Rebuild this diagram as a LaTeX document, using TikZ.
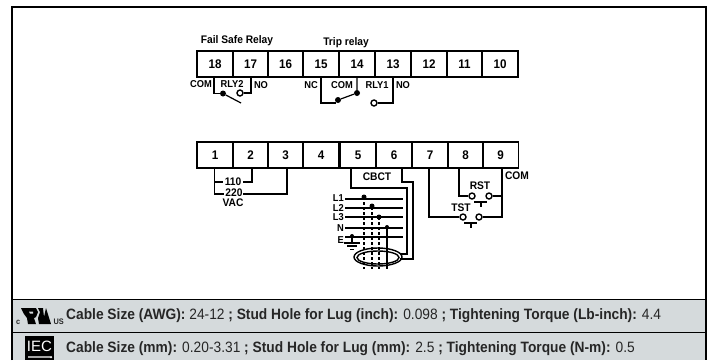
\documentclass[tikz,border=0pt]{standalone}
\usepackage{fontspec}
\setmainfont{Liberation Sans}
\tikzset{
  wire/.style={line width=1.2pt},
  fatwire/.style={line width=2pt},
  cell/.style={draw, line width=1.6pt, minimum width=38.4pt, minimum height=26pt, inner sep=0pt, xscale=0.93, font=\bfseries\fontsize{12.5}{12.5}\selectfont},
  tag/.style={inner sep=0pt, xscale=0.93, font=\bfseries\fontsize{10}{10}\selectfont},
  biglabel/.style={inner sep=0pt, xscale=0.93, font=\bfseries\fontsize{11}{11}\selectfont},
  barline/.style={inner sep=0pt, anchor=west, xscale=0.918, text=black!85, font=\fontsize{15}{15}\selectfont},
  dot/.style={circle, fill, inner sep=0pt, minimum size=6pt},
  opendot/.style={circle, draw, fill=white, line width=1.4pt, inner sep=0pt, minimum size=6pt},
}
\definecolor{barfill}{HTML}{D5DADC}
\begin{document}
\begin{tikzpicture}[x=1pt,y=-1pt]
    \useasboundingbox (0,0) rectangle (711,360);
    \fill[white] (0,0) rectangle (711,360);
    % bars at the foot
    \fill[barfill] (12,299) rectangle (706,360);
    \draw[line width=1.2pt] (12,360) -- (12,7) -- (706,7) -- (706,360);
    \draw[line width=1pt] (12,299.5) -- (706,299.5);
    \draw[line width=1pt] (12,332) -- (706,332);
    % upper terminals
    \foreach \num/\xa in {18/215,17/250.5,16/285.5,15/321,14/357,13/393,12/429,11/464.5,10/500}
        \node[cell] (t\num) at (\xa,64) {\num};
    % lower terminals
    \foreach \num/\xa in {1/215,2/250.5,3/285.5,4/321,5/358,6/394,7/430,8/465.5,9/500.5}
        \node[cell] (b\num) at (\xa,155) {\num};
    \node[biglabel] (failsafe) at (237,41) {Fail Safe Relay};
    \node[biglabel] (trip) at (346,43) {Trip relay};
    % relay 2
    \node[tag] (com2) at (201,84) {COM};
    \node[tag] (rly2) at (232,84) {RLY2};
    \node[tag] (no2) at (261,85) {NO};
    \node[dot] (rd2) at (223,93.5) {};
    \node[opendot] (ro2) at (240,93) {};
    \coordinate (rtip2) at (241,103);
    \draw[wire] (214,77) -- (214,93.5) -- (rd2);
    \draw[wire] (251,77) -- (251,93) -- (ro2);
    \draw[wire] (rd2) -- (rtip2);
    % relay 1
    \node[tag] (nc1) at (311,85) {NC};
    \node[tag] (com1) at (342,85) {COM};
    \node[tag] (rly1) at (377,85) {RLY1};
    \node[tag] (no1) at (403,85) {NO};
    \node[dot] (rd1) at (338,100) {};
    \node[dot] (rc1) at (357,93) {};
    \node[opendot] (ro1) at (374,103) {};
    \draw[wire] (321,77) -- (321,103) -- (336,103);
    \draw[wire] (rd1) -- (rc1) -- (357,77);
    \draw[wire] (393,77) -- (393,103) -- (ro1);
    % supply
    \node[biglabel] (v110) at (233,182) {110};
    \node[biglabel] (v220) at (234,192.5) {220};
    \node[biglabel] (vac) at (233,203) {VAC};
    \draw[wire] (214.5,168) -- (214.5,194) -- (224,194);
    \draw[fatwire] (214.5,182) -- (223,182);
    \draw[wire] (252,168) -- (252,182) -- (243,182);
    \draw[wire] (287,168) -- (287,194) -- (243,194);
    % cbct
    \node[biglabel] (cbct) at (377,177) {CBCT};
    \foreach \lab/\ya in {L1/198,L2/207.5,L3/217,N/228,E/240}
        \node[tag, anchor=east] (lab\lab) at (344,\ya) {\lab};
    \foreach \ya in {199,208,217}
        \draw[wire] (345,\ya) -- (403,\ya);
    \foreach \ya in {228,237}
        \draw[fatwire] (345,\ya) -- (403,\ya);
    \draw[wire, dash pattern=on 3pt off 2pt] (364,197) -- (364,269);
    \draw[wire, dash pattern=on 3pt off 2pt] (372,207) -- (372,269);
    \draw[wire, dash pattern=on 3pt off 2pt] (379,217) -- (379,269);
    \draw[wire] (387,227) -- (387,269);
    \node[dot, minimum size=5pt] (d1) at (364,197) {};
    \node[dot, minimum size=5pt] (d2) at (372,206) {};
    \node[dot, minimum size=5pt] (d3) at (379,217) {};
    \node[dot, minimum size=4pt] (d4) at (387,227) {};
    \node[dot, minimum size=4pt] (d5) at (352,236) {};
    \draw[wire] (d5) -- (352,243);
    \draw[line width=1.2pt] (344,243) -- (360,243);
    \draw[line width=1.2pt] (347,246) -- (357,246);
    \draw[line width=1pt] (350,249) -- (354,249);
    \draw[line width=1.4pt] (378,257) ellipse (24 and 9);
    \draw[line width=1.4pt] (378,257.5) ellipse (21 and 6.5);
    \draw[wire] (351,168) -- (351,188) -- (407,188) -- (407,254) -- (400,254);
    \draw[wire] (402,168) -- (402,182) -- (413,182) -- (413,259) -- (400,259);
    % test and reset buttons
    \node[biglabel] (com3) at (517,176) {COM};
    \node[biglabel] (rst) at (480,186) {RST};
    \node[biglabel] (tst) at (461,208) {TST};
    \node[opendot] (r1) at (472,196) {};
    \node[opendot] (r2) at (489,196) {};
    \node[opendot] (s1) at (463,217) {};
    \node[opendot] (s2) at (479,217) {};
    \draw[wire] (429,168) -- (429,217) -- (s1);
    \draw[wire] (459,168) -- (459,196) -- (r1);
    \draw[wire] (502,168) -- (502,217) -- (s2);
    \draw[wire] (r2) -- (502,196);
    \draw[fatwire] (474,202) -- (487,202) (480.5,202) -- (480.5,207);
    \draw[fatwire] (464,223) -- (477,223) (470.5,223) -- (470.5,228);
    % marks and text of the bars
    \node[barline, font=\bfseries\fontsize{8}{8}\selectfont] (ulc) at (16,322) {c};
    \node[barline, font=\bfseries\fontsize{8}{8}\selectfont] (ulus) at (53.5,322) {US};
    \fill (21,308) -- (36,308) -- (38,312) -- (36,317) -- (34,318) -- (36,324) -- (28,324) -- (27,318) -- (24,314) -- cycle;
    \fill (38,308) -- (43,308) -- (44,317) -- (46,308) -- (46,308) -- (51,324) -- (39,324) -- (38,318) -- (40,312) -- cycle;
    \fill[barfill] (29,311.5) -- (33,311.5) -- (33,313.5) -- (30,313.5) -- cycle;
    \node[fill=black, minimum width=29pt, minimum height=24pt, inner sep=0pt] (iec) at (39.5,348) {};
    \node[text=white, inner sep=0pt, font=\fontsize{15}{15}\selectfont] (iectext) at (39.5,346.5) {IEC};
    \draw[black!35, line width=1.2pt] (28,357) -- (50,357);
    \node[dot, white, minimum size=2.5pt] (iecdot) at (51,357) {};
    \node[barline] (row1) at (66,315.5) {\textbf{Cable Size (AWG):} 24-12 \textbf{; Stud Hole for Lug (inch):} 0.098 \textbf{; Tightening Torque (Lb-inch):} 4.4};
    \node[barline] (row2) at (66,348.5) {\textbf{Cable Size (mm):} 0.20-3.31 \textbf{; Stud Hole for Lug (mm):} 2.5 \textbf{; Tightening Torque (N-m):} 0.5};
\end{tikzpicture}
\end{document}
